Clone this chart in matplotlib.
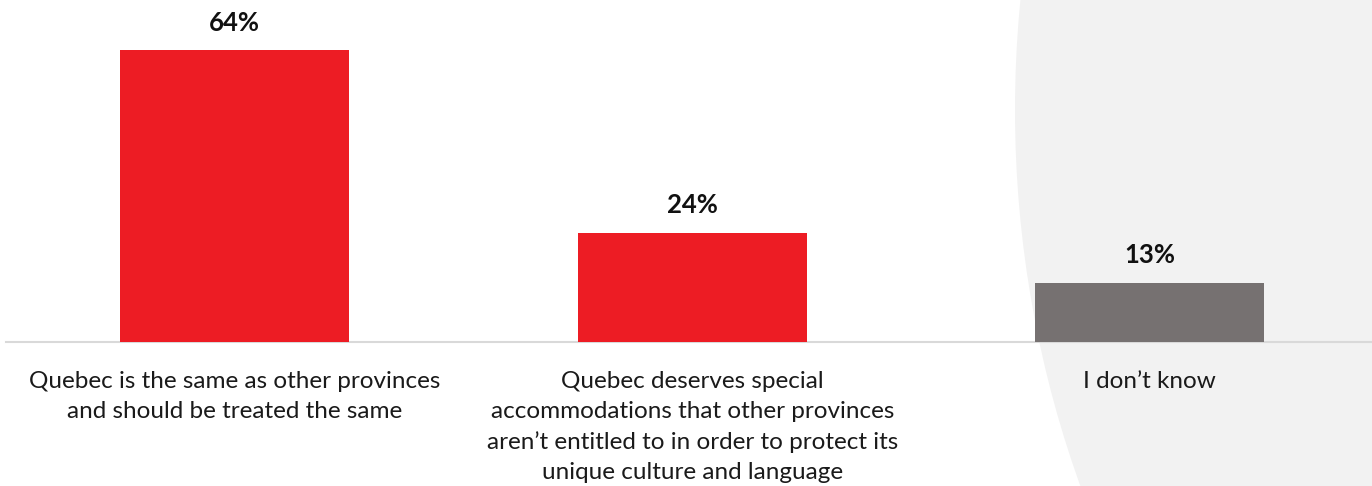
import matplotlib
matplotlib.use("Agg")
import matplotlib.pyplot as plt
from matplotlib.patches import Ellipse

categories = [
    "Quebec is the same as other provinces\nand should be treated the same",
    "Quebec deserves special\naccommodations that other provinces\naren\u2019t entitled to in order to protect its\nunique culture and language",
    "I don\u2019t know",
]
values = [64, 24, 13]
value_labels = ["64%", "24%", "13%"]
colors = ["#ED1C24", "#ED1C24", "#767171"]

plt.rcParams['font.family'] = ['Lato', 'DejaVu Sans']

W, H = 1372, 486
fig = plt.figure(figsize=(W / 100, H / 100), dpi=100)

# background decoration
bg = fig.add_axes([0, 0, 1, 1])
bg.set_xlim(0, W)
bg.set_ylim(H, 0)
bg.axis("off")
bg.add_patch(Ellipse((1915, 110), 2 * 900, 2 * 1005, facecolor="#f2f2f2", edgecolor="none"))

base_y = 342
ax_left = 6
ax = fig.add_axes([ax_left / W, (H - base_y) / H, 1372.5 / W, base_y / H])
ax.patch.set_alpha(0)
x = list(range(len(values)))
ax.bar(x, values, width=0.5, color=colors, zorder=3)
ax.set_xlim(-0.5, 2.5)
ax.set_ylim(0, base_y / 4.56)
for s in ["top", "right", "left"]:
    ax.spines[s].set_visible(False)
ax.spines["bottom"].set_color("#d9d9d9")
ax.spines["bottom"].set_linewidth(1.5)
ax.set_yticks([])
ax.set_xticks(x)
ax.set_xticklabels(categories, fontsize=17.5, color="#1a1a1a", linespacing=1.52, va="top")
ax.tick_params(axis="x", length=0, pad=21)
for xi, v, lab in zip(x, values, value_labels):
    ax.annotate(lab, (xi, v), xytext=(0, 11), textcoords="offset points",
                ha="center", va="bottom", fontsize=18.5, fontweight="bold", color="#111111")

fig.savefig("out.png", dpi=100)
